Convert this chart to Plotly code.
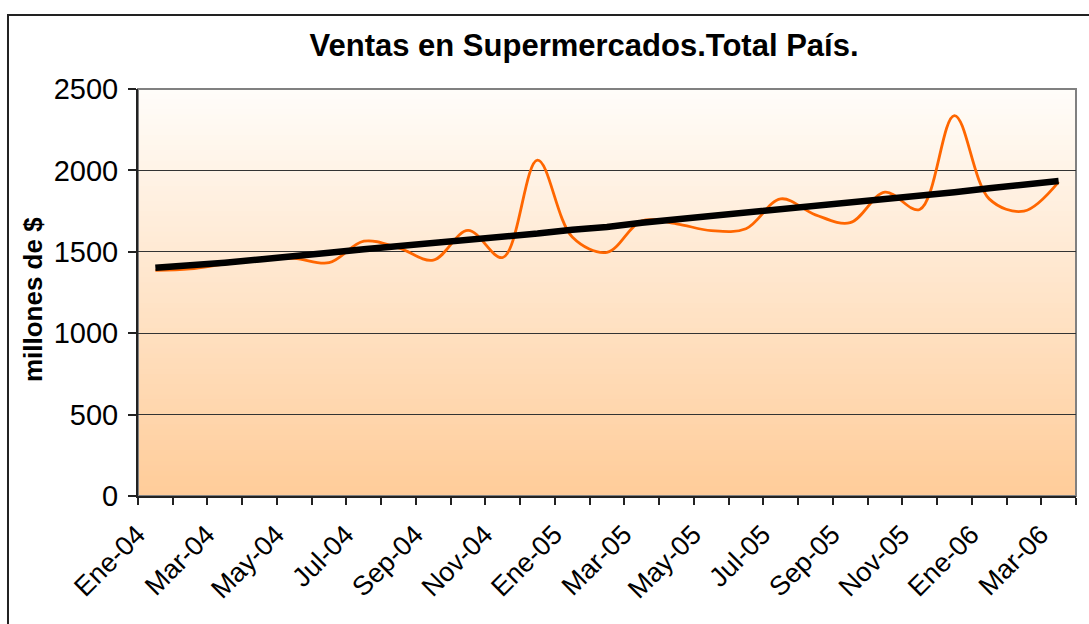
import plotly.graph_objects as go

# meses (categorías del eje x)
meses = [
    "Ene-04", "Feb-04", "Mar-04", "Abr-04", "May-04", "Jun-04", "Jul-04", "Ago-04", "Sep-04",
    "Oct-04", "Nov-04", "Dic-04", "Ene-05", "Feb-05", "Mar-05", "Abr-05", "May-05", "Jun-05",
    "Jul-05", "Ago-05", "Sep-05", "Oct-05", "Nov-05", "Dic-05", "Ene-06", "Feb-06", "Mar-06",
]
# ventas mensuales (millones de $)
ventas = [1386, 1395, 1425, 1450, 1460, 1433, 1565, 1524, 1449, 1632, 1465, 2063, 1591, 1497,
          1690, 1672, 1630, 1642, 1825, 1727, 1679, 1866, 1760, 2337, 1825, 1750, 1930]
# tendencia
tendencia = [1402, 1415, 1433, 1453, 1469, 1494, 1516, 1534, 1550, 1567, 1591, 1612, 1636, 1652,
             1679, 1699, 1723, 1744, 1768, 1784, 1809, 1829, 1845, 1866, 1890, 1910, 1935]
etiquetas = [m if i % 2 == 0 else "" for i, m in enumerate(meses)]

FONT = "Liberation Sans, Arial, sans-serif"

fig = go.Figure()
fig.add_trace(go.Scatter(x=meses, y=ventas, mode="lines",
                         line=dict(color="#FF6600", width=2.8, shape="spline", smoothing=1.0),
                         name="Ventas"))
fig.add_trace(go.Scatter(x=meses, y=tendencia, mode="lines",
                         line=dict(color="#000000", width=6.5),
                         name="Tendencia"))

# fondo degradado del área de trazado
shapes = []
n = 80
top = (255, 253, 250)
bot = (255, 204, 153)
for k in range(n):
    t = (k + 0.5) / n
    c = tuple(round(bot[j] + (top[j] - bot[j]) * t) for j in range(3))
    shapes.append(dict(type="rect", xref="x domain", yref="y domain",
                       x0=0, x1=1, y0=k / n, y1=(k + 1) / n + 0.002,
                       fillcolor="rgb(%d,%d,%d)" % c, line=dict(width=0), layer="below"))
# borde gris del área de trazado
shapes.append(dict(type="rect", xref="x domain", yref="y domain", x0=0, x1=1, y0=0, y1=1,
                   line=dict(color="#808080", width=2), layer="below"))
# marco exterior del gráfico
shapes.append(dict(type="rect", xref="paper", yref="paper",
                   x0=-0.1386, x1=1.05, y0=-0.4, y1=1.1818,
                   line=dict(color="#222222", width=2), layer="below"))

fig.update_layout(
    width=1089, height=624,
    paper_bgcolor="white",
    plot_bgcolor="white",
    showlegend=False,
    margin=dict(l=138, r=13, t=89, b=128, autoexpand=False),
    shapes=shapes,
    title=dict(text="Ventas en Supermercados.Total País.", x=0.4755, xref="paper", xanchor="center",
               y=1 - 45 / 624, yref="container", yanchor="middle",
               font=dict(family=FONT, size=31, color="black", weight="bold")),
    annotations=[dict(text="millones de $", xref="paper", yref="paper", x=-0.1118, y=0.4816,
                      textangle=-90, showarrow=False, xanchor="center", yanchor="middle",
                      font=dict(family=FONT, size=26, color="black", weight="bold"))],
)

fig.update_xaxes(
    type="category", range=[-0.5, 26.5],
    tickmode="array", tickvals=meses, ticktext=etiquetas,
    tickson="boundaries", ticks="outside", ticklen=7, tickwidth=1.5, tickcolor="#222",
    tickangle=-45, tickfont=dict(family=FONT, size=27, color="black"),
    ticklabelstandoff=10, ticklabelshift=-18,
    showline=True, linecolor="#222", linewidth=2,
    showgrid=False, zeroline=False,
)
fig.update_yaxes(
    range=[0, 2500], dtick=500, ticks="outside", ticklen=8, tickwidth=1.5, tickcolor="#222",
    tickfont=dict(family=FONT, size=29, color="black"), ticklabelstandoff=4,
    showline=True, linecolor="#222", linewidth=2,
    showgrid=True, gridcolor="#333333", gridwidth=1, zeroline=False,
)

fig.write_html("out.html", config={"displayModeBar": False},
               post_script="document.body.style.margin='0';")
